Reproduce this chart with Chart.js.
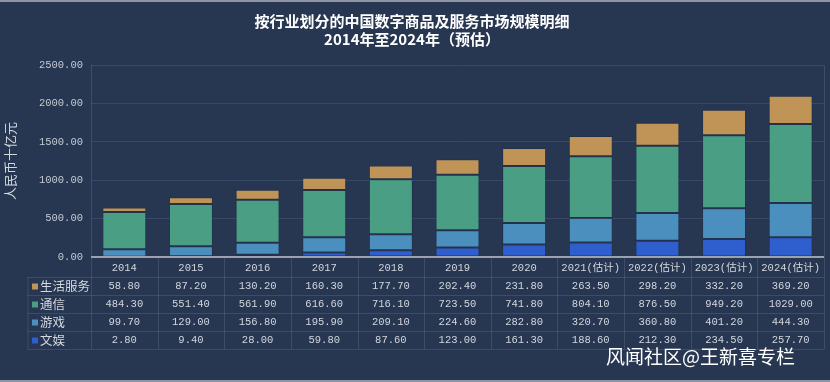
<!DOCTYPE html>
<html>
<head>
<meta charset="utf-8">
<script src="https://cdn.jsdelivr.net/npm/chart.js@4/dist/chart.umd.min.js"></script>
<style>
  html,body{margin:0;padding:0;background:#273752;}
  #wrap{position:relative;width:830px;height:382px;overflow:hidden;background:#273752;}
  #wrap:before{content:"";position:absolute;left:0;top:0;width:830px;height:2px;background:#8f96a3;}
  #wrap:after{content:"";position:absolute;left:0;bottom:0;width:830px;height:2px;background:#8f96a3;}
  canvas{position:absolute;left:0;top:0;}
  #wm{position:absolute;left:606px;top:342px;font-family:"Noto Sans CJK SC",sans-serif;font-size:19px;color:#ffffff;white-space:nowrap;letter-spacing:0px;}
</style>
</head>
<body>
<div id="wrap">
  <canvas id="c" width="830" height="382"></canvas>
  <div id="wm">风闻社区@王新喜专栏</div>
</div>
<script>
const categories = ["2014","2015","2016","2017","2018","2019","2020","2021(估计)","2022(估计)","2023(估计)","2024(估计)"];
const shenghuofuwu = [58.8,87.2,130.2,160.3,177.7,202.4,231.8,263.5,298.2,332.2,369.2];
const tongxin = [484.3,551.4,561.9,616.6,716.1,723.5,741.8,804.1,876.5,949.2,1029.0];
const youxi = [99.7,129.0,156.8,195.9,209.1,224.6,282.8,320.7,360.8,401.2,444.3];
const wenyu = [2.8,9.4,28.0,59.8,87.6,123.0,161.3,188.6,212.3,234.5,257.7];
const yTicks = [0,500,1000,1500,2000,2500];

const titleLines = ["按行业划分的中国数字商品及服务市场规模明细","2014年至2024年（预估）"];
const yTitle = "人民币十亿元";

const colors = {
  "生活服务":"#c09456",
  "通信":"#4a9e83",
  "游戏":"#4a8fbd",
  "文娱":"#2f5ecf"
};

// table rows top->bottom
const tableRows = [
  {name:"生活服务", data:shenghuofuwu},
  {name:"通信", data:tongxin},
  {name:"游戏", data:youxi},
  {name:"文娱", data:wenyu}
];

const monoFont = '"Liberation Mono","Noto Sans CJK SC",monospace';
const cjkFont = '"Noto Sans CJK SC",sans-serif';
const lineCol = 'rgba(255,255,255,0.11)';
const textCol = '#d3d7de';

const tablePlugin = {
  id:'tablePlugin',
  afterDraw(chart){
    const ctx = chart.ctx;
    const ca = chart.chartArea;
    const xs = chart.scales.x;
    const n = categories.length;
    const colW = (ca.right - ca.left)/n;
    const headerH = 20;
    const rowH = 18;
    const top = ca.bottom;
    const labelLeft = 27.5;
    const tableBottom = top + headerH + rowH*tableRows.length;
    ctx.save();
    ctx.strokeStyle = lineCol;
    ctx.lineWidth = 1;
    for(let r=0;r<=tableRows.length;r++){
      const y = Math.round(top + headerH + r*rowH)+0.5;
      ctx.beginPath(); ctx.moveTo(labelLeft,y); ctx.lineTo(ca.right,y); ctx.stroke();
    }
    for(let i=0;i<=n;i++){
      const x = Math.round(ca.left + i*colW)+0.5;
      ctx.beginPath(); ctx.moveTo(x, (i===0||i===n)?ca.top:top); ctx.lineTo(x,tableBottom); ctx.stroke();
    }
    ctx.beginPath(); ctx.moveTo(labelLeft+0.5, top+headerH); ctx.lineTo(labelLeft+0.5,tableBottom); ctx.stroke();
    ctx.strokeStyle = '#9aa2af';
    ctx.lineWidth = 2;
    ctx.beginPath(); ctx.moveTo(ca.left, ca.bottom); ctx.lineTo(ca.right, ca.bottom); ctx.stroke();
    ctx.fillStyle = textCol;
    ctx.textAlign = 'center';
    ctx.textBaseline = 'middle';
    ctx.font = '10.5px ' + monoFont;
    for(let i=0;i<n;i++){
      const cx = xs.getPixelForValue(i);
      ctx.fillText(categories[i], cx, top + headerH/2 + 1);
    }
    tableRows.forEach((row,r)=>{
      const cy = top + headerH + r*rowH + rowH/2 + 0.5;
      ctx.fillStyle = colors[row.name];
      ctx.fillRect(32, cy-3, 6, 6);
      ctx.fillStyle = textCol;
      ctx.textAlign = 'left';
      ctx.font = '12.5px ' + cjkFont;
      ctx.fillText(row.name, 40, cy);
      ctx.textAlign = 'center';
      ctx.font = '10.5px ' + monoFont;
      for(let i=0;i<n;i++){
        ctx.fillText(row.data[i].toFixed(2), xs.getPixelForValue(i), cy);
      }
    });
    ctx.restore();
  }
};

const mk = (label, data) => ({
  label, data,
  backgroundColor: colors[label],
  borderColor: 'rgba(20,30,45,0.18)',
  borderWidth: 1,
  borderSkipped: false,
  barPercentage: 0.66,
  categoryPercentage: 1.0
});

new Chart(document.getElementById('c'), {
  type:'bar',
  data:{
    labels: categories,
    datasets:[
      mk("文娱", wenyu),
      mk("游戏", youxi),
      mk("通信", tongxin),
      mk("生活服务", shenghuofuwu)
    ]
  },
  options:{
    responsive:false,
    animation:false,
    devicePixelRatio:1,
    layout:{padding:{top:12,left:0,right:6,bottom:125}},
    plugins:{
      legend:{display:false},
      tooltip:{enabled:false},
      title:{
        display:true,
        text:titleLines,
        color:'#ffffff',
        font:{family:cjkFont,size:15,weight:'bold',lineHeight:1.2},
        padding:{top:0,bottom:17}
      }
    },
    scales:{
      x:{
        stacked:true,
        display:false
      },
      y:{
        stacked:true,
        min:0,max:2500,
        afterFit(s){ s.width = 91; },
        afterBuildTicks(s){ s.ticks = yTicks.map(v=>({value:v})); },
        ticks:{
          color:'#c5cad3',
          font:{family:monoFont,size:10.5},
          padding:8,
          callback:(v)=>Number(v).toFixed(2)
        },
        grid:{color:'#384967',lineWidth:1,drawTicks:false},
        border:{display:false},
        title:{
          display:true,
          text:yTitle,
          color:'#d3d7de',
          font:{family:cjkFont,size:13},
          padding:{top:2,bottom:0}
        }
      }
    }
  },
  plugins:[tablePlugin]
});
</script>
</body>
</html>
